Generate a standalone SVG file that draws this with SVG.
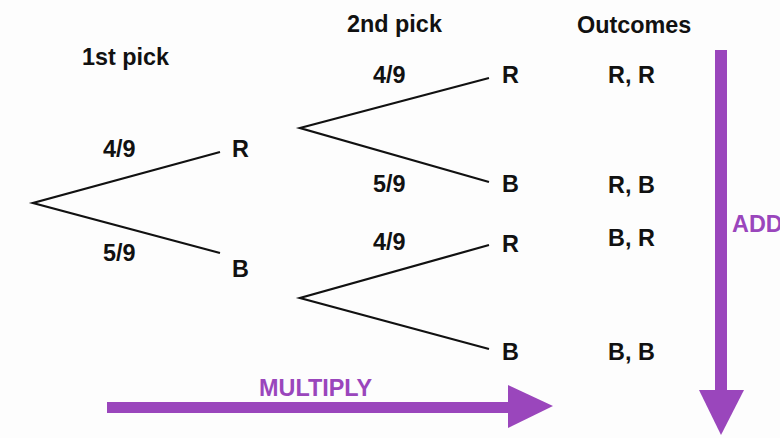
<svg xmlns="http://www.w3.org/2000/svg" width="780" height="438" viewBox="0 0 780 438">
<style>
.t{font-family:"Liberation Sans",Arial,sans-serif;font-weight:bold;font-size:23.4px;fill:#111}
.p{font-family:"Liberation Sans",Arial,sans-serif;font-weight:bold;font-size:23.4px;fill:#9a46bc}
.b{stroke:#111;stroke-width:2.2;fill:none}
.a{fill:#9a46bc}
</style>
<rect width="780" height="438" fill="#fdfdfd"/>
<g id="headers">
<text class="t" x="82" y="65">1st pick</text>
<text class="t" x="347" y="32">2nd pick</text>
<text class="t" x="577" y="33">Outcomes</text>
</g>
<g id="connectors">
<polyline class="b" points="220,152 33,203 220,253"/>
<polyline class="b" points="489,78 300,128 489,182"/>
<polyline class="b" points="489,245 300,298 489,349"/>
</g>
<g id="labels">
<text class="t" x="103" y="157">4/9</text>
<text class="t" x="103" y="261">5/9</text>
<text class="t" x="373" y="83">4/9</text>
<text class="t" x="373" y="192">5/9</text>
<text class="t" x="373" y="250">4/9</text>
</g>
<g id="node-R1"><text class="t" x="232" y="157">R</text></g>
<g id="node-B1"><text class="t" x="232" y="277">B</text></g>
<g id="node-RR"><text class="t" x="502" y="83">R</text></g>
<g id="node-RB"><text class="t" x="502" y="192">B</text></g>
<g id="node-BR"><text class="t" x="502" y="252">R</text></g>
<g id="node-BB"><text class="t" x="502" y="360">B</text></g>
<g id="outcomes">
<text class="t" x="608" y="83">R, R</text>
<text class="t" x="608" y="193">R, B</text>
<text class="t" x="608" y="246">B, R</text>
<text class="t" x="608" y="360">B, B</text>
</g>
<g id="multiply">
<rect class="a" x="107" y="402" width="403" height="11"/>
<polygon class="a" points="508,385 553,406 508,428"/>
<text class="p" x="259" y="396">MULTIPLY</text>
</g>
<g id="add">
<rect class="a" x="715" y="50" width="12" height="342"/>
<polygon class="a" points="699,390 744,390 721,435"/>
<text class="p" x="732" y="232">ADD</text>
</g>
</svg>
